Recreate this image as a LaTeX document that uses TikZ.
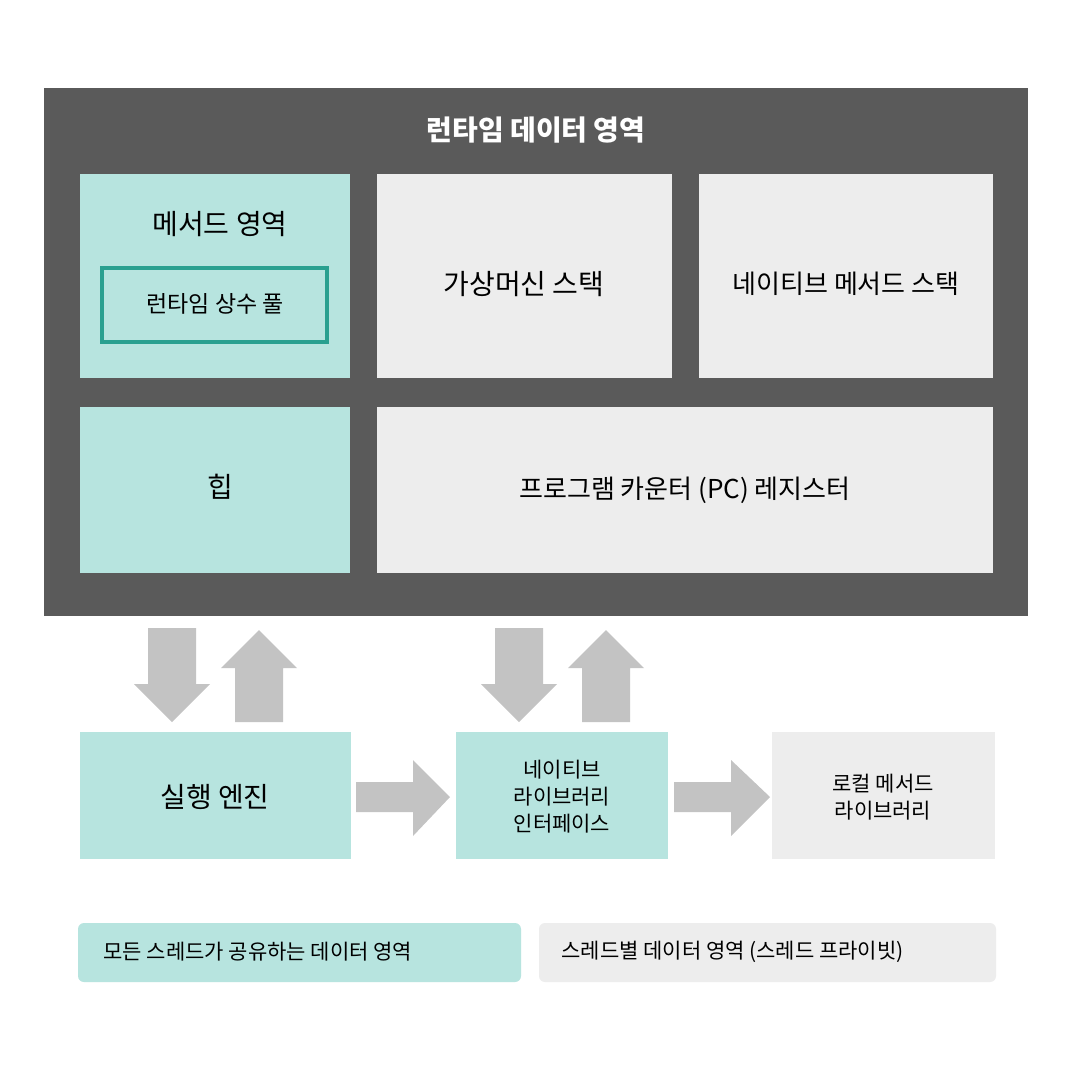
\documentclass[tikz,border=0pt]{standalone}
\usepackage{fontspec}
\setmainfont{Noto Sans CJK KR}
\usepackage{tikz}
\usetikzlibrary{positioning}
\definecolor{darkarea}{HTML}{5A5A5A}
\definecolor{sharedfill}{HTML}{B7E4DF}
\definecolor{privfill}{HTML}{EDEDED}
\definecolor{poolline}{HTML}{2AA090}
\definecolor{arrowgray}{HTML}{C3C3C3}
\tikzset{
 shared/.style={fill=sharedfill, draw=none},
 private/.style={fill=privfill, draw=none},
 big/.style={font=\fontsize{28}{32}\selectfont},
 mid/.style={font=\fontsize{25}{30}\selectfont},
 small/.style={font=\fontsize{21}{27}\selectfont, align=center},
}
\newcommand{\downblk}[1]{\fill[arrowgray] (#1-24,628) -- (#1+24,628) -- (#1+24,684) -- (#1+38,684) -- (#1,722) -- (#1-38,684) -- (#1-24,684) -- cycle;}
\newcommand{\upblk}[1]{\fill[arrowgray] (#1-24,722) -- (#1+24,722) -- (#1+24,668) -- (#1+38,668) -- (#1,630) -- (#1-38,668) -- (#1-24,668) -- cycle;}
\newcommand{\rightblk}[2]{\fill[arrowgray] (#1,782) -- (#1+57,782) -- (#1+57,760) -- (#2,797) -- (#1+57,836) -- (#1+57,812) -- (#1,812) -- cycle;}
\begin{document}
\begin{tikzpicture}[x=1pt,y=-1pt]
\useasboundingbox (0,0) rectangle (1080,1080);
\fill[white] (0,0) rectangle (1080,1080);

% runtime data area
\fill[darkarea] (44,88) rectangle (1028,616);
\node[text=white, font=\fontsize{28}{32}\bfseries] (title) at (536,130) {런타임 데이터 영역};

\fill[shared] (80,174) rectangle (350,378);
\node[big] (method) at (220,224) {메서드 영역};
\draw[poolline, line width=4.5pt, fill=sharedfill] (102,268) rectangle (327,342);
\node[font=\fontsize{23}{28}\selectfont] (pool) at (215,304) {런타임 상수 풀};

\fill[private] (377,174) rectangle (672,378);
\node[big] (vmstack) at (524,284) {가상머신 스택};
\fill[private] (699,174) rectangle (993,378);
\node[font=\fontsize{26}{30}\selectfont] (nstack) at (846,284) {네이티브 메서드 스택};

\fill[shared] (80,407) rectangle (350,573);
\node[big] (heap) at (220,487) {힙};
\fill[private] (377,407) rectangle (993,573);
\node[font=\fontsize{26}{30}\selectfont] (pc) at (685,490) {프로그램 카운터 (PC) 레지스터};

% arrows
\downblk{172}
\upblk{259}
\downblk{519}
\upblk{606}
\rightblk{356}{450}
\rightblk{674}{770}

% bottom row
\fill[shared] (80,732) rectangle (351,859);
\node[big] (engine) at (215,797) {실행 엔진};
\fill[shared] (456,732) rectangle (668,859);
\node[small] (nli) at (562,797) {네이티브\\라이브러리\\인터페이스};
\fill[private] (772,732) rectangle (995,859);
\node[small] (lib) at (883,797) {로컬 메서드\\라이브러리};

% legend
\fill[shared, rounded corners=6pt] (78,923) rectangle (521,982);
\node[small, anchor=west] (lshared) at (100,952) {모든 스레드가 공유하는 데이터 영역};
\fill[private, rounded corners=6pt] (539,923) rectangle (996,982);
\node[small, anchor=west] (lpriv) at (558,952) {스레드별 데이터 영역 (스레드 프라이빗)};
\end{tikzpicture}
\end{document}
